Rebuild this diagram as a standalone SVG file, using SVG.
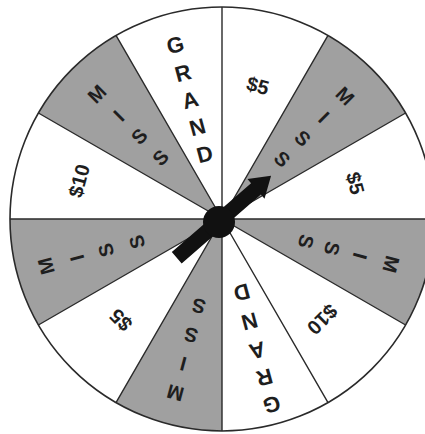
<svg xmlns="http://www.w3.org/2000/svg" width="425" height="434" viewBox="0 0 425 434">
<style>
.bg{fill:#ffffff}
.gray{fill:#a0a0a0}
.div{stroke:#2a2a2a;stroke-width:1.4;fill:none}
.rim{fill:none;stroke:#2a2a2a;stroke-width:1.6}
.t{font-family:"Liberation Sans",Arial,sans-serif;font-weight:bold;fill:#1e1e1e;text-anchor:middle;dominant-baseline:central}
.g{font-size:22px}
.m{font-size:20px}
.d{font-size:20px}
.ptr{fill:#111111}
</style>
<rect width="425" height="434" fill="#ffffff"/>
<circle class="bg" cx="222" cy="219" r="212"/>

<g id="sector-grand-top">
<text class="t g" transform="rotate(-15 222 219)" x="222" y="39">G</text>
<text class="t g" transform="rotate(-15 222 219)" x="222" y="68">R</text>
<text class="t g" transform="rotate(-15 222 219)" x="222" y="96">A</text>
<text class="t g" transform="rotate(-15 222 219)" x="222" y="124">N</text>
<text class="t g" transform="rotate(-15 222 219)" x="222" y="152">D</text>
</g>

<g id="sector-miss-topleft">
<path class="gray" d="M222,219 L116,35.4 A212,212 0 0 0 38.4,113 Z"/>
<text class="t m" transform="rotate(-45 222 219)" x="222" y="42">M</text>
<text class="t m" transform="rotate(-45 222 219)" x="222" y="73">I</text>
<text class="t m" transform="rotate(-45 222 219)" x="222" y="102">S</text>
<text class="t m" transform="rotate(-45 222 219)" x="222" y="132">S</text>
</g>

<g id="sector-10-left">
<text class="t d" transform="rotate(-75 222 219)" x="222" y="71">$10</text>
</g>

<g id="sector-miss-left">
<path class="gray" d="M222,219 L10,219 A212,212 0 0 0 38.4,325 Z"/>
<text class="t m" transform="rotate(-105 222 219)" x="222" y="37">M</text>
<text class="t m" transform="rotate(-105 222 219)" x="222" y="69">I</text>
<text class="t m" transform="rotate(-105 222 219)" x="222" y="99">S</text>
<text class="t m" transform="rotate(-105 222 219)" x="222" y="131">S</text>
</g>

<g id="sector-5-bottomleft">
<text class="t d" transform="rotate(-135 222 219)" x="222" y="76">$5</text>
</g>

<g id="sector-miss-bottom">
<path class="gray" d="M222,219 L116,402.6 A212,212 0 0 0 222,431 Z"/>
<text class="t m" transform="rotate(-165 222 219)" x="222" y="39">M</text>
<text class="t m" transform="rotate(-165 222 219)" x="222" y="69">I</text>
<text class="t m" transform="rotate(-165 222 219)" x="222" y="99">S</text>
<text class="t m" transform="rotate(-165 222 219)" x="222" y="129">S</text>
</g>

<g id="sector-grand-bottom">
<text class="t g" transform="rotate(165 222 219)" x="222" y="27">G</text>
<text class="t g" transform="rotate(165 222 219)" x="222" y="55">R</text>
<text class="t g" transform="rotate(165 222 219)" x="222" y="83">A</text>
<text class="t g" transform="rotate(165 222 219)" x="222" y="113">N</text>
<text class="t g" transform="rotate(165 222 219)" x="222" y="143">D</text>
</g>

<g id="sector-10-bottomright">
<text class="t d" transform="rotate(135 222 219)" x="222" y="77">$10</text>
</g>

<g id="sector-miss-right">
<path class="gray" d="M222,219 L405.6,325 A212,212 0 0 0 434,219 Z"/>
<text class="t m" transform="rotate(105 222 219)" x="222" y="44">M</text>
<text class="t m" transform="rotate(105 222 219)" x="222" y="76">I</text>
<text class="t m" transform="rotate(105 222 219)" x="222" y="105">S</text>
<text class="t m" transform="rotate(105 222 219)" x="222" y="132">S</text>
</g>

<g id="sector-5-right">
<text class="t d" transform="rotate(75 222 219)" x="222" y="81">$5</text>
</g>

<g id="sector-miss-topright">
<path class="gray" d="M222,219 L405.6,113 A212,212 0 0 0 328,35.4 Z"/>
<text class="t m" transform="rotate(45 222 219)" x="222" y="45">M</text>
<text class="t m" transform="rotate(45 222 219)" x="222" y="75">I</text>
<text class="t m" transform="rotate(45 222 219)" x="222" y="105">S</text>
<text class="t m" transform="rotate(45 222 219)" x="222" y="134">S</text>
</g>

<g id="sector-5-top">
<text class="t d" transform="rotate(15 222 219)" x="222" y="81">$5</text>
</g>

<g id="dividers">
<path class="div" d="M222,219 L434,219 M222,219 L405.6,113 M222,219 L328,35.4 M222,219 L222,7 M222,219 L116,35.4 M222,219 L38.4,113 M222,219 L10,219 M222,219 L38.4,325 M222,219 L116,402.6 M222,219 L222,431 M222,219 L328,402.6 M222,219 L405.6,325"/>
<circle class="rim" cx="222" cy="219" r="212"/>
</g>

<g id="pointer">
<path class="ptr" transform="translate(219 221) rotate(-41)" d="M-56,-7.5 L49,-7.5 L49,-13 L69,0 L49,13 L49,7.5 L-56,7.5 Z"/>
<circle class="ptr" cx="219" cy="222" r="16"/>
</g>
</svg>
